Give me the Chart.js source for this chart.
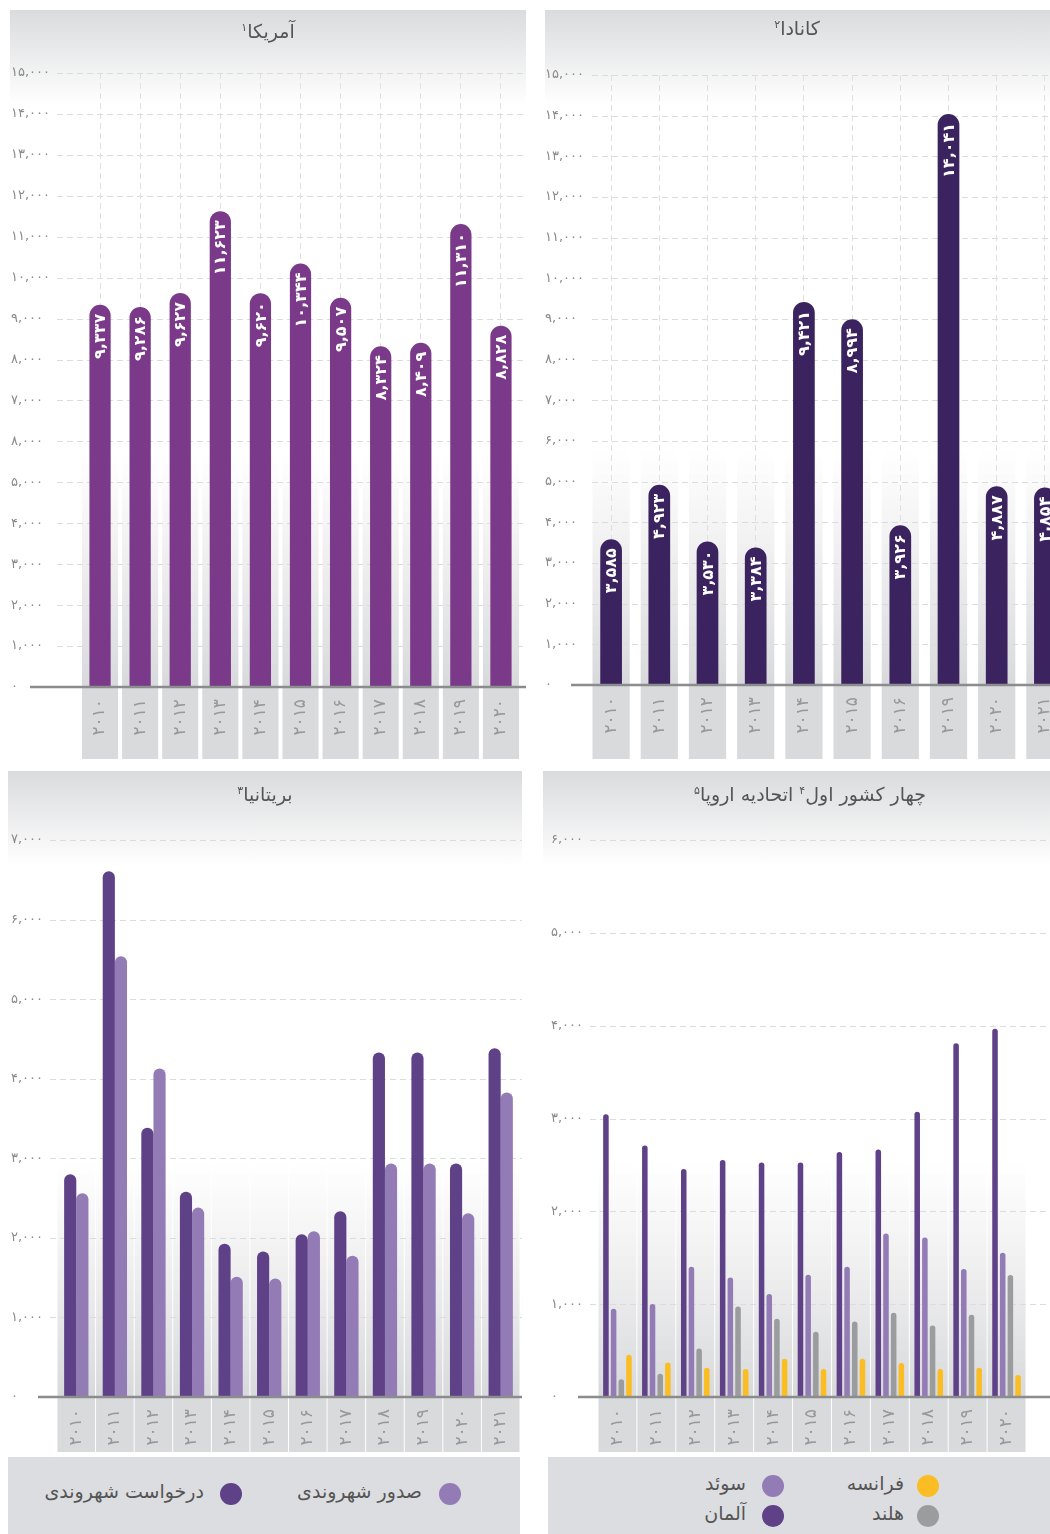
<!DOCTYPE html>
<html lang="fa">
<head>
<meta charset="utf-8">
<title>شهروندی</title>
<script src="https://cdn.jsdelivr.net/npm/chart.js@4.4.1/dist/chart.umd.min.js"></script>
<style>
  html, body { margin: 0; padding: 0; background: #fff; width: 1050px; height: 1534px; overflow: hidden; }
  body { position: relative; font-family: 'DejaVu Sans', sans-serif; }
  .panel { position: absolute; overflow: hidden; background: linear-gradient(to bottom, #dadbdd 0px, #ffffff 95px); }
  .panel canvas { position: absolute; left: 0; top: 0; }
  .title { position: absolute; transform: translateX(-50%); white-space: nowrap; direction: rtl;
           font-size: 19px; line-height: 22px; color: #555; }
  .title sup { font-size: 11px; vertical-align: 7px; line-height: 0; }
  .legend { position: absolute; background: #dcdde0; }
  .item { position: absolute; direction: rtl; font-size: 19px; line-height: 22px; color: #555; white-space: nowrap; }
  .dot { position: absolute; width: 22px; height: 22px; border-radius: 50%; }
</style>
</head>
<body>

<div class="panel" style="left:10px; top:10px; width:516px; height:749px;">
  <canvas id="usChart" width="516" height="749"></canvas>
  <div class="title" style="left:258px; top:10px;">آمریکا<sup>۱</sup></div>
</div>

<div class="panel" style="left:545px; top:10px; width:505px; height:749px;">
  <canvas id="caChart" width="530" height="749"></canvas>
  <div class="title" style="left:252px; top:7px;">کانادا<sup>۲</sup></div>
</div>

<div class="panel" style="left:8px; top:771px; width:514px; height:686px;">
  <canvas id="ukChart" width="514" height="686"></canvas>
  <div class="title" style="left:257px; top:12px;">بریتانیا<sup>۳</sup></div>
</div>

<div class="panel" style="left:543px; top:771px; width:507px; height:686px;">
  <canvas id="euChart" width="507" height="686"></canvas>
  <div class="title" style="left:267px; top:12px;">چهار کشور اول<sup>۴</sup> اتحادیه اروپا<sup>۵</sup></div>
</div>

<div class="legend" style="left:8px; top:1457px; width:512px; height:77px;">
  <div class="dot" style="left:431px; top:26px; background:#937bb6;"></div>
  <div class="item" style="right:98px; top:23px;">صدور شهروندی</div>
  <div class="dot" style="left:212px; top:26px; background:#5f4188;"></div>
  <div class="item" style="right:316px; top:23px;">درخواست شهروندی</div>
</div>

<div class="legend" style="left:548px; top:1457px; width:502px; height:77px;">
  <div class="dot" style="left:369px; top:18px; background:#fbbd24;"></div>
  <div class="item" style="right:146px; top:15px;">فرانسه</div>
  <div class="dot" style="left:369px; top:48px; background:#9b9c9d;"></div>
  <div class="item" style="right:146px; top:45px;">هلند</div>
  <div class="dot" style="left:214px; top:18px; background:#937bb6;"></div>
  <div class="item" style="right:304px; top:15px;">سوئد</div>
  <div class="dot" style="left:214px; top:48px; background:#5f4188;"></div>
  <div class="item" style="right:304px; top:45px;">آلمان</div>
</div>

<script>
// ---------- DATA ----------
const usYears = ["۲۰۱۰", "۲۰۱۱", "۲۰۱۲", "۲۰۱۳", "۲۰۱۴", "۲۰۱۵", "۲۰۱۶", "۲۰۱۷", "۲۰۱۸", "۲۰۱۹", "۲۰۲۰"];
const usValues = [9337, 9286, 9627, 11623, 9620, 10344, 9507, 8324, 8409, 11310, 8828];
const usTicks = ["۰", "۱,۰۰۰", "۲,۰۰۰", "۳,۰۰۰", "۴,۰۰۰", "۵,۰۰۰", "۸,۰۰۰", "۷,۰۰۰", "۸,۰۰۰",
                 "۹,۰۰۰", "۱۰,۰۰۰", "۱۱,۰۰۰", "۱۲,۰۰۰", "۱۳,۰۰۰", "۱۴,۰۰۰", "۱۵,۰۰۰"];

const caYears = ["۲۰۱۰", "۲۰۱۱", "۲۰۱۲", "۲۰۱۳", "۲۰۱۴", "۲۰۱۵", "۲۰۱۶", "۲۰۱۹", "۲۰۲۰", "۲۰۲۱"];
const caValues = [3585, 4923, 3530, 3384, 9421, 8994, 3926, 14041, 4887, 4854];
const caTicks = ["۰", "۱,۰۰۰", "۲,۰۰۰", "۳,۰۰۰", "۴,۰۰۰", "۵,۰۰۰", "۶,۰۰۰", "۷,۰۰۰", "۸,۰۰۰",
                 "۹,۰۰۰", "۱۰,۰۰۰", "۱۱,۰۰۰", "۱۲,۰۰۰", "۱۳,۰۰۰", "۱۴,۰۰۰", "۱۵,۰۰۰"];

const ukYears = ["۲۰۱۰", "۲۰۱۱", "۲۰۱۲", "۲۰۱۳", "۲۰۱۴", "۲۰۱۵", "۲۰۱۶", "۲۰۱۷", "۲۰۱۸", "۲۰۱۹", "۲۰۲۰", "۲۰۲۱"];
const ukApplied = [2800, 6608, 3383, 2580, 1925, 1830, 2045, 2333, 4330, 4330, 2933, 4384];
const ukGranted = [2560, 5540, 4129, 2380, 1510, 1490, 2083, 1775, 2933, 2933, 2308, 3828];
const ukTicks = ["۰", "۱,۰۰۰", "۲,۰۰۰", "۳,۰۰۰", "۴,۰۰۰", "۵,۰۰۰", "۶,۰۰۰", "۷,۰۰۰"];

const euYears = ["۲۰۱۰", "۲۰۱۱", "۲۰۱۲", "۲۰۱۳", "۲۰۱۴", "۲۰۱۵", "۲۰۱۶", "۲۰۱۷", "۲۰۱۸", "۲۰۱۹", "۲۰۲۰"];
const deValues = [3046, 2708, 2457, 2554, 2525, 2525, 2640, 2665, 3074, 3810, 3968];
const seValues = [950, 1001, 1402, 1287, 1109, 1316, 1402, 1761, 1718, 1378, 1553];
const nlValues = [190, 251, 523, 975, 843, 703, 814, 907, 771, 886, 1313];
const frValues = [455, 372, 315, 301, 412, 301, 412, 365, 301, 315, 237];
const euTicks = ["۰", "۱,۰۰۰", "۲,۰۰۰", "۳,۰۰۰", "۴,۰۰۰", "۵,۰۰۰", "۶,۰۰۰"];

// ---------- HELPERS ----------
const faDigits = "۰۱۲۳۴۵۶۷۸۹";
function toFa(n) {
  return n.toLocaleString("en-US").replace(/[0-9]/g, d => faDigits[+d]);
}

Chart.defaults.font.family = "'DejaVu Sans', sans-serif";

// columns, category boxes, dashed grid, baseline, value labels
const decor = {
  id: "decor",
  beforeDraw(chart, args, o) {
    const { ctx, chartArea, scales: { x, y } } = chart;
    const base = y.getPixelForValue(0);
    const n = chart.data.labels.length;
    const step = chartArea.width / n;
    const w = step - o.gap;
    ctx.save();
    const g = ctx.createLinearGradient(0, base - 235, 0, base);
    g.addColorStop(0, "rgba(222,222,224,0)");
    g.addColorStop(1, "rgba(216,217,219,1)");
    for (let i = 0; i < n; i++) {
      const cx = x.getPixelForValue(i);
      ctx.fillStyle = g;
      ctx.fillRect(cx - w / 2, base - 235, w, 235);
      ctx.fillStyle = "#d9dadc";
      ctx.fillRect(cx - w / 2, base, w, chart.height - o.boxBottom - base);
    }
    ctx.strokeStyle = "#dcdcdc";
    ctx.lineWidth = 1;
    ctx.setLineDash([6, 4]);
    y.ticks.forEach(t => {
      if (t.value === 0) return;
      const py = Math.round(y.getPixelForValue(t.value)) + 0.5;
      ctx.beginPath();
      ctx.moveTo(o.gridLeft, py);
      ctx.lineTo(chart.width, py);
      ctx.stroke();
    });
    ctx.restore();
  },
  afterDatasetsDraw(chart, args, o) {
    const { ctx, scales: { y } } = chart;
    const base = y.getPixelForValue(0);
    ctx.save();
    ctx.strokeStyle = "#8c8c8e";
    ctx.lineWidth = 2.5;
    ctx.beginPath();
    ctx.moveTo(o.baseLeft, base);
    ctx.lineTo(chart.width, base);
    ctx.stroke();
    if (o.values) {
      const meta = chart.getDatasetMeta(0);
      const data = chart.data.datasets[0].data;
      ctx.fillStyle = "#fff";
      ctx.font = "bold 16px 'DejaVu Sans', sans-serif";
      ctx.direction = "ltr";
      ctx.textAlign = "right";
      ctx.textBaseline = "middle";
      meta.data.forEach((bar, i) => {
        ctx.save();
        ctx.translate(bar.x, bar.y + 9);
        ctx.rotate(-Math.PI / 2);
        ctx.fillText(toFa(data[i]), 0, 1);
        ctx.restore();
      });
    }
    ctx.restore();
  }
};

function makeChart(id, cfg) {
  const canvas = document.getElementById(id);
  return new Chart(canvas, {
    type: "bar",
    data: { labels: cfg.labels, datasets: cfg.datasets },
    options: {
      responsive: false,
      animation: false,
      devicePixelRatio: 1,
      events: [],
      layout: { padding: cfg.padding },
      plugins: {
        legend: { display: false },
        tooltip: { enabled: false },
        decor: cfg.decor
      },
      scales: {
        x: {
          // fixed band height; rotated labels should not squeeze the plot sideways
          afterFit: s => { s.height = cfg.xHeight; s.paddingLeft = 0; s.paddingRight = 0; },
          grid: {
            display: cfg.vGrid,
            offset: false,
            drawTicks: false,
            color: "#e0e0e0"
          },
          border: { display: false, dash: [6, 4] },
          ticks: {
            autoSkip: false,
            minRotation: 90,
            maxRotation: 90,
            padding: 12,
            color: "#98989a",
            font: { size: 17 }
          }
        },
        y: {
          min: 0,
          max: cfg.max,
          afterFit: s => { s.width = cfg.yWidth; },
          grid: { display: false },
          border: { display: false },
          ticks: {
            stepSize: 1000,
            crossAlign: "far",
            padding: 0,
            color: "#8a8a8c",
            font: { size: 13 },
            callback: (v, i) => cfg.ticks[i]
          }
        }
      }
    },
    plugins: [decor]
  });
}

// ---------- USA ----------
makeChart("usChart", {
  labels: usYears,
  datasets: [{
    data: usValues,
    backgroundColor: "#7a3a89",
    borderRadius: 11,
    borderSkipped: "start",
    barPercentage: 0.53,
    categoryPercentage: 1
  }],
  padding: { top: 63, right: 5, left: 1, bottom: 0 },
  xHeight: 72, yWidth: 69, max: 15000, ticks: usTicks, vGrid: true,
  decor: { gap: 4, boxBottom: 0, gridLeft: 47, baseLeft: 20, values: true }
});

// ---------- CANADA ----------
makeChart("caChart", {
  labels: caYears,
  datasets: [{
    data: caValues,
    backgroundColor: "#3b2360",
    borderRadius: 11,
    borderSkipped: "start",
    barPercentage: 0.45,
    categoryPercentage: 1
  }],
  padding: { top: 65, right: 6, left: 0, bottom: 0 },
  xHeight: 74, yWidth: 42, max: 15000, ticks: caTicks, vGrid: true,
  decor: { gap: 11, boxBottom: 0, gridLeft: 47, baseLeft: 26, values: true }
});

// ---------- UK ----------
makeChart("ukChart", {
  labels: ukYears,
  datasets: [
    { data: ukApplied, backgroundColor: "#5f4188", borderRadius: 6, borderSkipped: "start",
      barPercentage: 1, categoryPercentage: 0.63 },
    { data: ukGranted, backgroundColor: "#937bb6", borderRadius: 6, borderSkipped: "start",
      barPercentage: 1, categoryPercentage: 0.63 }
  ],
  padding: { top: 69, right: 2, left: 3, bottom: 0 },
  xHeight: 60, yWidth: 46, max: 7000, ticks: ukTicks, vGrid: false,
  decor: { gap: 1, boxBottom: 5, gridLeft: 42, baseLeft: 30, values: false }
});

// ---------- EU ----------
makeChart("euChart", {
  labels: euYears,
  datasets: [
    { data: deValues, backgroundColor: "#5f4188" },
    { data: seValues, backgroundColor: "#937bb6" },
    { data: nlValues, backgroundColor: "#9b9c9d" },
    { data: frValues, backgroundColor: "#fbbd24" }
  ].map(d => Object.assign(d, {
    borderRadius: 3, borderSkipped: "start", barPercentage: 0.72, categoryPercentage: 0.79
  })),
  padding: { top: 69, right: 24, left: 8, bottom: 0 },
  xHeight: 60, yWidth: 47, max: 6000, ticks: euTicks, vGrid: false,
  decor: { gap: 1, boxBottom: 5, gridLeft: 47, baseLeft: 35, values: false }
});
</script>
</body>
</html>
